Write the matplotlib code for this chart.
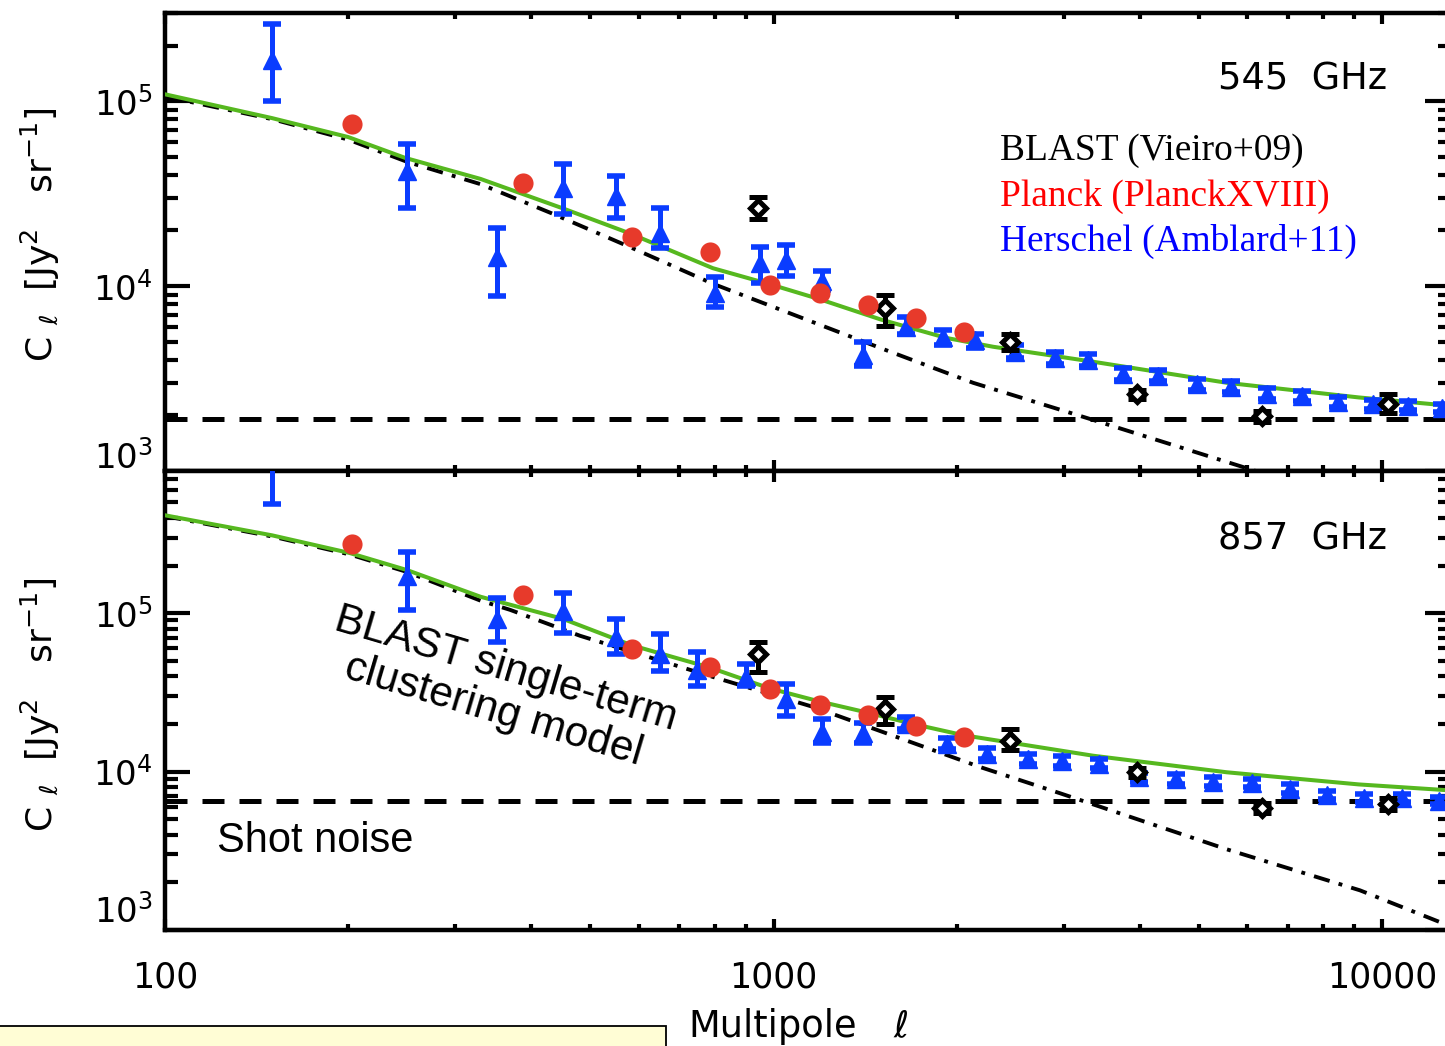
import numpy as np
import matplotlib.pyplot as plt
from matplotlib.patches import Rectangle
from matplotlib.ticker import (FixedLocator, FixedFormatter, NullFormatter, LogLocator,
                               FuncFormatter)

# ---- data ----
# 545 GHz panel
h545_l = [150, 250, 351, 451, 551, 650, 801, 951, 1050, 1202, 1403, 1652, 1901, 2143,
          2495, 2904, 3290, 3753, 4283, 4966, 5650, 6474, 7391, 8477, 9664, 11037, 12560]
h545_c = [1.68e5, 4.2e4, 1.43e4, 3.4e4, 3.08e4, 1.93e4, 9.2e3, 1.33e4, 1.38e4, 1.07e4, 4.26e3,
          6.0e3, 5.3e3, 5.1e3, 4.4e3, 4.1e3, 4.0e3, 3.33e3, 3.28e3, 2.94e3, 2.86e3, 2.62e3,
          2.56e3, 2.35e3, 2.29e3, 2.26e3, 2.19e3]
h545_lo = [1.0e5, 2.63e4, 8.8e3, 2.46e4, 2.34e4, 1.6e4, 7.7e3, 1.04e4, 1.13e4, 9.5e3, 3.68e3,
           5.5e3, 4.8e3, 4.6e3, 4.1e3, 3.8e3, 3.7e3, 3.1e3, 3.05e3, 2.75e3, 2.68e3, 2.45e3,
           2.4e3, 2.22e3, 2.17e3, 2.14e3, 2.08e3]
h545_hi = [2.6e5, 5.9e4, 2.05e4, 4.6e4, 3.95e4, 2.63e4, 1.12e4, 1.62e4, 1.66e4, 1.2e4, 5.0e3,
           6.8e3, 5.8e3, 5.5e3, 4.8e3, 4.4e3, 4.3e3, 3.6e3, 3.5e3, 3.15e3, 3.05e3, 2.8e3,
           2.72e3, 2.5e3, 2.42e3, 2.38e3, 2.3e3]

b545_l = [944, 1524, 2449, 3951, 6350, 10240]
b545_c = [2.66e4, 7.6e3, 5.0e3, 2.6e3, 1.98e3, 2.29e3]
b545_lo = [2.32e4, 6.1e3, 4.5e3, 2.45e3, 1.85e3, 2.05e3]
b545_hi = [3.02e4, 8.9e3, 5.5e3, 2.75e3, 2.1e3, 2.6e3]

planck_l = [203, 387, 585, 785, 985, 1192, 1428, 1713, 2055]
p545_c = [7.5e4, 3.63e4, 1.84e4, 1.52e4, 1.01e4, 9.2e3, 7.9e3, 6.7e3, 5.66e3]

m545_l = [100, 150, 200, 248, 330, 451, 580, 795, 990, 1190, 1500, 1920, 2295, 3350, 5560,
          9155, 13000]
m545_c = [1.09e5, 8.1e4, 6.4e4, 4.94e4, 3.8e4, 2.63e4, 1.93e4, 1.25e4, 1.02e4, 8.5e3, 6.6e3,
          5.25e3, 4.7e3, 3.9e3, 3.0e3, 2.5e3, 2.25e3]
cl545_l = [100, 150, 200, 250, 330, 434, 580, 795, 1500, 2128, 3350, 6200]
cl545_c = [1.06e5, 8.0e4, 6.2e4, 4.7e4, 3.56e4, 2.46e4, 1.63e4, 1.03e4, 4.62e3, 3.0e3,
           1.89e3, 1.0e3]
shot545 = 1.9e3

# 857 GHz panel
h857_l = [150, 250, 351, 451, 551, 650, 750, 900, 1050, 1202, 1403, 1650, 1930, 2240, 2618,
          2980, 3430, 3980, 4590, 5280, 6120, 7070, 8110, 9350, 10800, 12400]
h857_c = [1.0e6, 1.71e5, 9.2e4, 1.03e5, 7.1e4, 5.5e4, 4.4e4, 3.94e4, 2.86e4, 1.78e4, 1.74e4,
          2.0e4, 1.5e4, 1.3e4, 1.2e4, 1.16e4, 1.12e4, 9.2e3, 9.0e3, 8.6e3, 8.5e3, 7.8e3,
          7.1e3, 6.8e3, 6.8e3, 6.5e3]
h857_lo = [4.9e5, 1.05e5, 6.6e4, 7.5e4, 5.5e4, 4.3e4, 3.45e4, 3.45e4, 2.24e4, 1.51e4, 1.51e4,
           1.85e4, 1.38e4, 1.2e4, 1.11e4, 1.08e4, 1.05e4, 8.6e3, 8.4e3, 8.1e3, 8.0e3, 7.35e3,
           6.7e3, 6.45e3, 6.45e3, 6.2e3]
h857_hi = [2.0e6, 2.43e5, 1.25e5, 1.34e5, 9.2e4, 7.4e4, 5.7e4, 4.75e4, 3.55e4, 2.16e4, 2.04e4,
           2.2e4, 1.62e4, 1.4e4, 1.3e4, 1.25e4, 1.2e4, 9.8e3, 9.6e3, 9.2e3, 9.0e3, 8.3e3,
           7.5e3, 7.2e3, 7.2e3, 6.9e3]

b857_l = [944, 1526, 2449, 3951, 6350, 10240]
b857_c = [5.5e4, 2.49e4, 1.57e4, 9.9e3, 5.9e3, 6.2e3]
b857_lo = [4.24e4, 2.0e4, 1.36e4, 9.3e3, 5.5e3, 5.7e3]
b857_hi = [6.6e4, 2.95e4, 1.85e4, 1.05e4, 6.3e3, 6.8e3]

p857_c = [2.73e5, 1.3e5, 5.9e4, 4.55e4, 3.3e4, 2.62e4, 2.29e4, 1.93e4, 1.66e4]

m857_l = [100, 150, 201, 250, 330, 451, 585, 787, 986, 1191, 1425, 1695, 2047, 3350, 5560,
          9155, 13000]
m857_c = [4.15e5, 3.1e5, 2.4e5, 1.87e5, 1.27e5, 9.2e4, 6.27e4, 4.53e4, 3.35e4, 2.77e4,
          2.36e4, 2.0e4, 1.7e4, 1.26e4, 9.9e3, 8.3e3, 7.6e3]
cl857_l = [100, 150, 201, 250, 330, 369, 481, 795, 1162, 2183, 2957, 5560, 9200, 13000]
cl857_c = [4.1e5, 3.05e5, 2.35e5, 1.82e5, 1.2e5, 1.05e5, 7.2e4, 3.96e4, 2.56e4, 1.07e4,
           7.3e3, 3.23e3, 1.78e3, 1.05e3]
shot857 = 6.5e3

xtick_vals = [100, 1000, 10000]
xtick_labels = ['100', '1000', '10000']
band_labels = ['545  GHz', '857  GHz']
legend_labels = ['BLAST (Vieiro+09)', 'Planck (PlanckXVIII)', 'Herschel (Amblard+11)']

# ---- styles ----
W, H = 1445, 1046
BLUE = '#0a3cff'
RED = '#e73a2b'
GREEN = '#56b81f'

plt.rcParams['font.family'] = 'DejaVu Sans'


def fx(px):
    return px / W


def fy(py):
    return 1 - py / H


def ylabel_fmt(v, pos):
    # lowest decade label is drawn separately, a little raised
    if abs(v - 1e3) < 1:
        return ''
    return r'$\mathdefault{10^{%d}}$' % round(np.log10(v))


fig = plt.figure(figsize=(W / 100, H / 100), dpi=100)
ax_top = fig.add_axes([fx(165), fy(471), 1285 / W, 458 / H])
ax_bot = fig.add_axes([fx(165), fy(930), 1285 / W, 459 / H])

xmax = 10 ** (2 + 1285 / 608.5)

panels = [
    (ax_top, 3.0e5, 10, h545_l, h545_c, h545_lo, h545_hi, b545_l, b545_c, b545_lo, b545_hi,
     p545_c, m545_l, m545_c, cl545_l, cl545_c, shot545),
    (ax_bot, 7.9e5, 13, h857_l, h857_c, h857_lo, h857_hi, b857_l, b857_c, b857_lo, b857_hi,
     p857_c, m857_l, m857_c, cl857_l, cl857_c, shot857),
]

for (ax, ytop, lift, hl, hc, hlo, hhi, bl, bc, blo, bhi, pc, ml, mc, cll, clc,
     shot) in panels:
    ax.set_xscale('log')
    ax.set_yscale('log')
    ax.set_xlim(100, xmax)
    ax.set_ylim(1e3, ytop)

    ax.axhline(shot, color='k', lw=3.6, ls=(0, (4.4, 3.0)), zorder=2)
    ax.plot(cll, clc, color='k', lw=2.8, ls=(0, (4.2, 2.4, 1.0, 2.4)), zorder=2)
    ax.plot(ml, mc, color=GREEN, lw=2.9, zorder=3)

    hc_a = np.array(hc)
    ax.errorbar(hl, hc, yerr=[hc_a - np.array(hlo), np.array(hhi) - hc_a], fmt='^',
                ms=12.5, color=BLUE, ecolor=BLUE, elinewidth=3.6, capsize=6.5, capthick=4,
                zorder=4)
    bc_a = np.array(bc)
    ax.errorbar(bl, bc, yerr=[bc_a - np.array(blo), np.array(bhi) - bc_a], fmt='D',
                ms=8, mfc='white', mec='k', mew=3.6, ecolor='k', elinewidth=3.6,
                capsize=6.5, capthick=4, zorder=5)
    ax.plot(planck_l, pc, 'o', ms=14.5, color=RED, mec='none', zorder=6)

    ax.xaxis.set_major_locator(FixedLocator(xtick_vals))
    ax.xaxis.set_minor_locator(LogLocator(base=10, subs=np.arange(2, 10), numticks=30))
    ax.xaxis.set_minor_formatter(NullFormatter())
    ax.yaxis.set_major_locator(LogLocator(base=10, numticks=20))
    ax.yaxis.set_major_formatter(FuncFormatter(ylabel_fmt))
    ax.yaxis.set_minor_locator(LogLocator(base=10, subs=np.arange(2, 10), numticks=30))
    ax.yaxis.set_minor_formatter(NullFormatter())

    ax.tick_params(which='both', direction='in', top=True, right=True, color='k')
    ax.tick_params(axis='y', which='major', length=18, width=3, labelsize=24.5, pad=9)
    ax.tick_params(axis='y', which='minor', length=9, width=3)
    ax.tick_params(axis='x', which='major', length=8, width=3, labelsize=25, pad=22)
    ax.tick_params(axis='x', which='minor', length=4, width=3)
    for s in ax.spines.values():
        s.set_linewidth(3.2)

    ax.annotate(r'$\mathdefault{10^{3}}$', xy=(0, 1e3), xycoords=('axes fraction', 'data'),
                xytext=(-9, lift), textcoords='offset points', ha='right', va='center',
                fontsize=24.5, annotation_clip=False)

ax_top.xaxis.set_major_formatter(NullFormatter())
ax_bot.xaxis.set_major_formatter(FixedFormatter(xtick_labels))

# axis labels
ylab = r'C $_{\ell}$  [Jy$^{2}$   sr$^{-1}$]'
fig.text(fx(40), fy(235), ylab, rotation=90, ha='center', va='center', fontsize=26)
fig.text(fx(40), fy(705), ylab, rotation=90, ha='center', va='center', fontsize=26)
fig.text(fx(688), fy(1037), 'Multipole', ha='left', va='baseline', fontsize=26.5)
fig.text(fx(893), fy(1037), r'$\ell$', ha='left', va='baseline', fontsize=26.5)

# band labels
fig.text(fx(1218), fy(90), band_labels[0], ha='left', va='baseline', fontsize=26.5)
fig.text(fx(1218), fy(550), band_labels[1], ha='left', va='baseline', fontsize=26.5)

# legend text
for lab, col, yb in zip(legend_labels, ['black', '#ff0000', '#0000ff'], [160, 206, 251]):
    fig.text(fx(1000), fy(yb), lab, color=col, ha='left', va='baseline', fontsize=26.9,
             family='Liberation Serif')

# annotations
fig.text(fx(500), fy(690), 'BLAST single-term\nclustering model', rotation=-16.5,
         rotation_mode='anchor', ha='center', va='center', multialignment='center',
         fontsize=30.5, linespacing=1.12, family='Liberation Sans')
fig.text(fx(217), fy(852), 'Shot noise', ha='left', va='baseline', fontsize=30,
         family='Liberation Sans')

# yellow box at the bottom edge
fig.patches.append(Rectangle((-0.01, -0.01), fx(666) + 0.01, 20 / H + 0.01,
                             transform=fig.transFigure, facecolor='#fffdd5',
                             edgecolor='black', lw=1.3, zorder=0))

fig.savefig('out.png', dpi=100)
